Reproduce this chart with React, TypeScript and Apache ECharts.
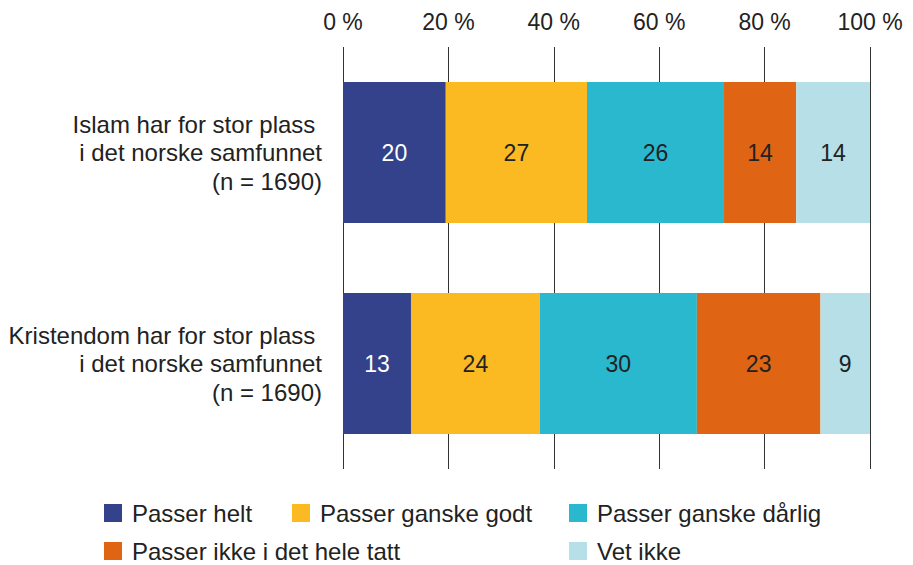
import React, { useEffect, useRef } from "react";
import * as echarts from "echarts";

const categories = [
  "Islam har for stor plass \ni det norske samfunnet\n(n = 1690)",
  "Kristendom har for stor plass \ni det norske samfunnet\n(n = 1690)",
];
const seriesNames = [
  "Passer helt",
  "Passer ganske godt",
  "Passer ganske dårlig",
  "Passer ikke i det hele tatt",
  "Vet ikke",
];
const passerHelt = [19.5, 12.9];
const passerGanskeGodt = [26.8, 24.45];
const passerGanskeDarlig = [26.0, 29.8];
const passerIkke = [13.7, 23.45];
const vetIkke = [14.0, 9.4];
const tickValues = [0, 20, 40, 60, 80, 100];

const colors = ["#33428A", "#FBBA22", "#2AB8CE", "#DF6414", "#B6DFE7"];
const labelColors = ["#ffffff", "#222222", "#222222", "#222222", "#222222"];
const FONT = '"Liberation Sans", Arial, Helvetica, sans-serif';

export default function App() {
  const ref = useRef<HTMLDivElement>(null);
  useEffect(() => {
    document.body.style.margin = "0";
    if (!ref.current) return;
    const chart = echarts.init(ref.current, null, { renderer: "svg" });
    const values = [passerHelt, passerGanskeGodt, passerGanskeDarlig, passerIkke, vetIkke];
    const legendPos = [
      { left: 104, top: 501 },
      { left: 292, top: 501 },
      { left: 569, top: 501 },
      { left: 104, top: 539 },
      { left: 569, top: 539 },
    ];
    chart.setOption({
      animation: false,
      textStyle: { fontFamily: FONT },
      grid: { left: 343, right: 43, top: 47, bottom: 96, containLabel: false },
      xAxis: {
        type: "value",
        position: "top",
        min: tickValues[0],
        max: tickValues[tickValues.length - 1],
        interval: 20,
        axisLine: { show: false },
        axisTick: { show: false },
        axisLabel: {
          formatter: "{value} %",
          fontSize: 23,
          color: "#222",
          margin: 14,
          fontFamily: FONT,
        },
        splitLine: { show: true, lineStyle: { color: "#333", width: 1 } },
      },
      yAxis: {
        type: "category",
        inverse: true,
        data: categories,
        axisLine: { show: false },
        axisTick: { show: false },
        axisLabel: {
          fontSize: 24,
          lineHeight: 28.5,
          color: "#222",
          align: "right",
          margin: 21,
          fontFamily: FONT,
        },
      },
      legend: seriesNames.map((n, i) => ({
        data: [n],
        left: legendPos[i].left,
        top: legendPos[i].top,
        padding: 0,
        icon: "rect",
        itemWidth: 18,
        itemHeight: 18,
        selectedMode: false,
        textStyle: {
          fontSize: 24,
          lineHeight: 20,
          color: "#222",
          fontFamily: FONT,
          padding: [0, 0, 0, 5],
        },
      })),
      series: seriesNames.map((n, i) => ({
        name: n,
        type: "bar",
        stack: "total",
        barWidth: 141,
        data: values[i],
        itemStyle: { color: colors[i] },
        label: {
          show: true,
          position: "inside",
          fontSize: 23,
          color: labelColors[i],
          fontFamily: FONT,
          formatter: (p: any) => String(Math.round(p.value)),
        },
      })),
    });
    return () => chart.dispose();
  }, []);
  return <div ref={ref} style={{ width: 913, height: 565 }} />;
}
